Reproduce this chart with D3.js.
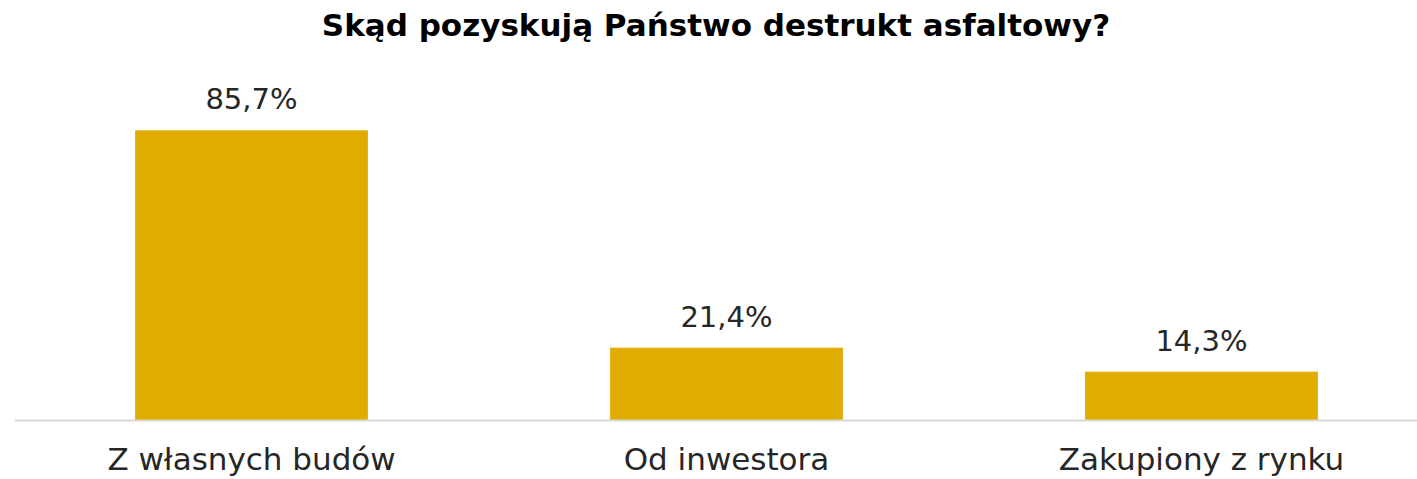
<!DOCTYPE html>
<html lang="pl">
<head>
<meta charset="UTF-8">
<title>Skąd pozyskują Państwo destrukt asfaltowy?</title>
<script src="https://cdn.jsdelivr.net/npm/d3@7"></script>
<style>
  body { margin: 0; background: #fff; }
  svg { display: block; font-family: 'DejaVu Sans', sans-serif; }
</style>
</head>
<body>
<svg id="chart" width="1417" height="479"></svg>
<script>
// data
const categories = ["Z własnych budów", "Od inwestora", "Zakupiony z rynku"];
const values = [85.7, 21.4, 14.3];
const valueLabels = ["85,7%", "21,4%", "14,3%"];

const svg = d3.select("#chart");
const baseY = 420;

let x = d3.scaleBand()
  .domain(categories)
  .range([14, 1439])
  .paddingInner(0.51)
  .paddingOuter(0.255);

let y = d3.scaleLinear()
  .domain([0, 100])
  .range([baseY, baseY - 338]);

svg.append("text")
  .attr("x", 716)
  .attr("y", 36)
  .attr("text-anchor", "middle")
  .attr("font-weight", 700)
  .attr("font-size", 31)
  .attr("fill", "#000")
  .text("Skąd pozyskują Państwo destrukt asfaltowy?");

svg.selectAll("rect.bar")
  .data(values)
  .join("rect")
  .attr("class", "bar")
  .attr("x", (d, i) => x(categories[i]))
  .attr("width", x.bandwidth())
  .attr("y", d => y(d))
  .attr("height", d => baseY - y(d))
  .attr("fill", "#E0AC00");

svg.selectAll("text.val")
  .data(values)
  .join("text")
  .attr("class", "val")
  .attr("x", (d, i) => x(categories[i]) + x.bandwidth() / 2)
  .attr("y", d => y(d) - 21)
  .attr("text-anchor", "middle")
  .attr("font-size", 29)
  .attr("fill", "#262626")
  .text((d, i) => valueLabels[i]);

// x axis
let xAxis = d3.axisBottom(x).tickSize(0);
let g = svg.append("g")
  .attr("transform", `translate(0,${baseY})`)
  .call(xAxis);
g.attr("font-family", null).attr("font-size", null);
g.select(".domain").attr("stroke", "#d9d9d9").attr("stroke-width", 2);
g.selectAll(".tick text")
  .attr("y", 50)
  .attr("dy", null)
  .attr("font-size", 31)
  .attr("fill", "#262626");
</script>
</body>
</html>
